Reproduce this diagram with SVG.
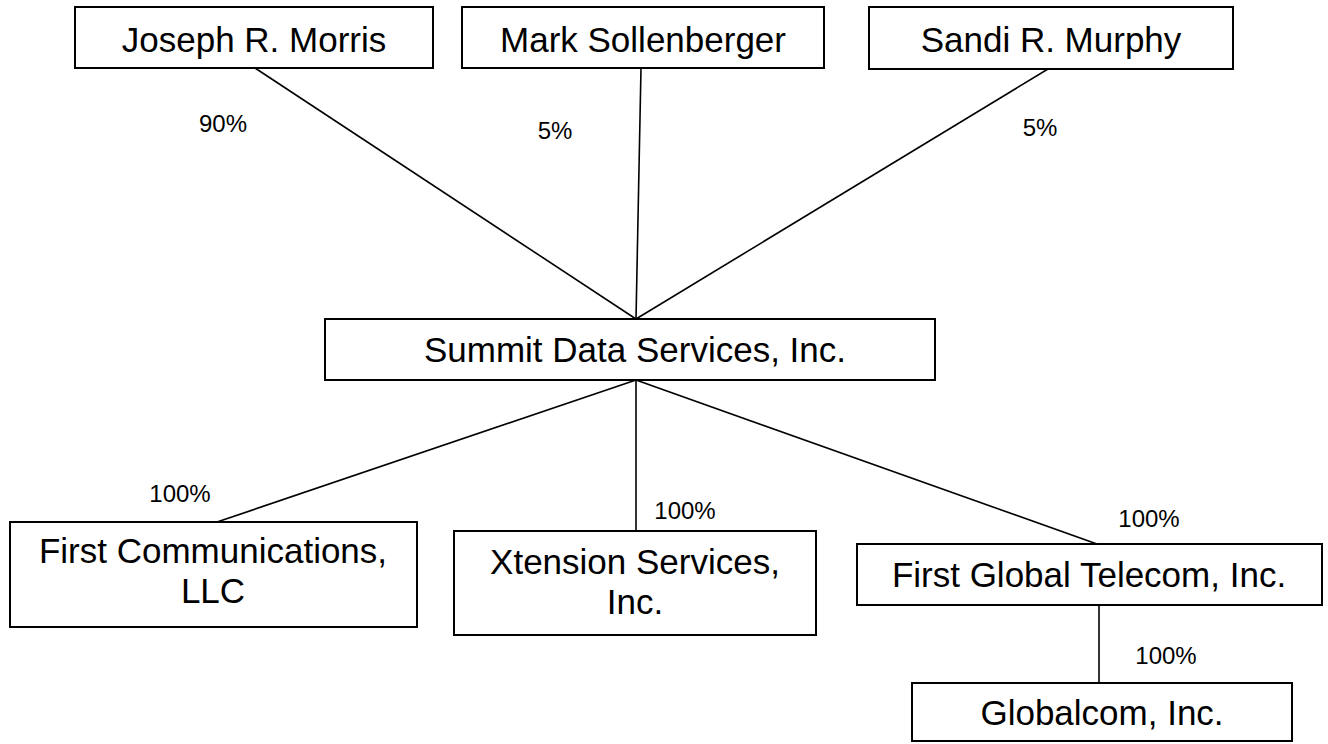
<svg xmlns="http://www.w3.org/2000/svg" width="1328" height="744" viewBox="0 0 1328 744">
<style>
.box{fill:#fff;stroke:#000;stroke-width:2}
.t{font-family:"Liberation Sans",Arial,sans-serif;font-size:35px;fill:#000;text-anchor:middle}
.p{font-family:"Liberation Sans",Arial,sans-serif;font-size:24px;fill:#000;text-anchor:middle}
.c{stroke:#000;stroke-width:1.6;fill:none}
</style>
<rect width="1328" height="744" fill="#fff"/>
<g id="connectors">
<line class="c" x1="255" y1="68" x2="636" y2="319"/>
<line class="c" x1="641" y1="68" x2="636" y2="319"/>
<line class="c" x1="1048" y1="69" x2="636" y2="319"/>
<line class="c" x1="636" y1="380" x2="217" y2="522"/>
<line class="c" x1="636" y1="380" x2="636" y2="531"/>
<line class="c" x1="636" y1="380" x2="1097" y2="544"/>
<line class="c" x1="1099" y1="605" x2="1099" y2="683"/>
</g>
<g id="labels">
<text class="p" x="223" y="132">90%</text>
<text class="p" x="555" y="139">5%</text>
<text class="p" x="1040" y="136">5%</text>
<text class="p" x="180" y="502">100%</text>
<text class="p" x="685" y="519">100%</text>
<text class="p" x="1149" y="527">100%</text>
<text class="p" x="1166" y="664">100%</text>
</g>
<g id="joseph"><rect class="box" x="75" y="7" width="358" height="61"/><text class="t" x="254" y="52">Joseph R. Morris</text></g>
<g id="mark"><rect class="box" x="462" y="7" width="362" height="61"/><text class="t" x="643" y="52">Mark Sollenberger</text></g>
<g id="sandi"><rect class="box" x="869" y="7" width="364" height="62"/><text class="t" x="1051" y="52">Sandi R. Murphy</text></g>
<g id="summit"><rect class="box" x="325" y="319" width="610" height="61"/><text class="t" x="635" y="362">Summit Data Services, Inc.</text></g>
<g id="firstcomm"><rect class="box" x="10" y="522" width="407" height="105"/><text class="t" x="213" y="563">First Communications,</text><text class="t" x="213" y="603">LLC</text></g>
<g id="xtension"><rect class="box" x="454" y="531" width="362" height="104"/><text class="t" x="635" y="574">Xtension Services,</text><text class="t" x="635" y="614">Inc.</text></g>
<g id="fgt"><rect class="box" x="857" y="544" width="465" height="61"/><text class="t" x="1089" y="587">First Global Telecom, Inc.</text></g>
<g id="globalcom"><rect class="box" x="912" y="683" width="380" height="58"/><text class="t" x="1102" y="725">Globalcom, Inc.</text></g>
</svg>
